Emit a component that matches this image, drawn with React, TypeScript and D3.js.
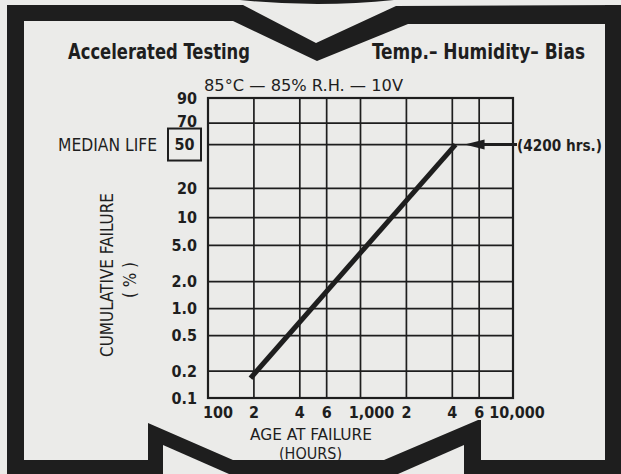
import React, { useEffect, useRef } from "react";
import * as d3 from "d3";

// hours axis (log) and cumulative failure axis (weibull paper)
const xTicks = [100, 200, 400, 600, 1000, 2000, 4000, 6000, 10000];
const xTickLabels = ["100", "2", "4", "6", "1,000", "2", "4", "6", "10,000"];
const yTicks = [0.1, 0.2, 0.5, 1, 2, 5, 10, 20, 50, 70, 90];
const yTickLabels = ["0.1", "0.2", "0.5", "1.0", "2.0", "5.0", "10", "20", "50", "70", "90"];

// fitted failure line
const lineHours = [190, 4200];
const lineFailure = [0.167, 50];
const medianLife = 4200;
const medianPct = 50;

const W = 621;
const H = 474;
const PAPER = "#ebebe9";
const INK = "#1e1e1e";
const NARROW = "'Liberation Sans Narrow', 'DejaVu Sans Condensed', 'Liberation Sans', sans-serif";

const weib = (p: number) => Math.log(-Math.log(1 - p / 100));

const App = () => {
  const svgRef = useRef<SVGSVGElement>(null);

  useEffect(() => {
    const svg = d3.select(svgRef.current);
    svg.selectAll("*").remove();

    const left = 208, right = 513, top = 98, bottom = 398;
    const x = d3.scaleLog().domain([100, 10000]).range([left, right]);
    const y = d3.scaleLinear().domain([weib(0.1), weib(90)]).range([bottom, top]);

    svg.append("rect").attr("width", W).attr("height", H).attr("fill", PAPER);

    // frame with chevrons
    const frame = svg.append("g").attr("fill", INK);
    frame.append("path").attr("d", "M240,0 Q318,8 394,0 Z");
    frame.append("rect").attr("x", 7).attr("y", 5).attr("width", 17).attr("height", H);
    frame.append("rect").attr("x", 605).attr("y", 5).attr("width", 16).attr("height", H);
    frame
      .append("path")
      .attr("d", "M7,5 L243,5 L316,43 L396,6 L621,5 L621,24 L408,24 L317,61 L233,21 L7,21 Z");
    frame
      .append("path")
      .attr("d", "M7,460 L148,460 L148,423 L233,460 L384,460 L478,420 L481,420 L481,460 L621,460 L621,474 L7,474 Z");
    frame.append("path").attr("fill", PAPER).attr("d", "M163,445 L163,474 L229,474 Z");
    frame.append("path").attr("fill", PAPER).attr("d", "M464,445 L464,474 L398,474 Z");

    // titles
    svg.append("text").attr("x", 68).attr("y", 59).attr("textLength", 182).attr("lengthAdjust", "spacingAndGlyphs")
      .attr("font-family", NARROW).attr("font-weight", "bold").attr("font-size", 22).attr("fill", INK)
      .text("Accelerated Testing");
    svg.append("text").attr("x", 372).attr("y", 59).attr("textLength", 213).attr("lengthAdjust", "spacingAndGlyphs")
      .attr("font-family", NARROW).attr("font-weight", "bold").attr("font-size", 22).attr("fill", INK)
      .text("Temp.\u2013 Humidity\u2013 Bias");
    svg.append("text").attr("x", 204).attr("y", 91).attr("textLength", 199).attr("lengthAdjust", "spacingAndGlyphs")
      .attr("font-family", NARROW).attr("font-size", 16).attr("fill", INK)
      .text("85\u00b0C \u2014 85% R.H. \u2014 10V");

    // grid
    const grid = svg.append("g").attr("stroke", INK).attr("stroke-width", 1.7);
    grid.selectAll("line.v").data(xTicks).join("line")
      .attr("x1", (d) => x(d)).attr("x2", (d) => x(d)).attr("y1", top).attr("y2", bottom);
    grid.selectAll("line.h").data(yTicks).join("line")
      .attr("y1", (d) => y(weib(d))).attr("y2", (d) => y(weib(d))).attr("x1", left).attr("x2", right);
    svg.append("rect").attr("x", left).attr("y", top).attr("width", right - left).attr("height", bottom - top)
      .attr("fill", "none").attr("stroke", INK).attr("stroke-width", 2.2);

    // y tick labels
    const yl = svg.append("g").attr("font-family", NARROW).attr("font-weight", "bold").attr("font-size", 16).attr("fill", INK);
    yTicks.forEach((t, i) => {
      const isMed = t === medianPct;
      yl.append("text")
        .attr("x", isMed ? 184.5 : 197)
        .attr("y", y(weib(t)) + (t === 70 ? -2 : 0))
        .attr("dy", "0.36em")
        .attr("text-anchor", isMed ? "middle" : "end")
        .text(yTickLabels[i]);
    });
    const ym = y(weib(medianPct));
    svg.append("rect").attr("x", 168).attr("y", ym - 16).attr("width", 33).attr("height", 32)
      .attr("fill", "none").attr("stroke", INK).attr("stroke-width", 2);
    svg.append("text").attr("x", 58).attr("y", ym + 6).attr("textLength", 99).attr("lengthAdjust", "spacingAndGlyphs")
      .attr("font-family", NARROW).attr("font-size", 17).attr("fill", INK).text("MEDIAN LIFE");

    // x tick labels
    const shift = (v: number) => (v === 100 ? 10 : v === 1000 ? 11 : v === 10000 ? 4 : 0);
    const xl = svg.append("g").attr("font-family", NARROW).attr("font-weight", "bold").attr("font-size", 16).attr("fill", INK)
      .attr("text-anchor", "middle");
    xTicks.forEach((t, i) => {
      xl.append("text").attr("x", x(t) + shift(t)).attr("y", 418).text(xTickLabels[i]);
    });

    // axis titles
    svg.append("text").attr("x", 250).attr("y", 440).attr("textLength", 122).attr("lengthAdjust", "spacingAndGlyphs")
      .attr("font-family", NARROW).attr("font-size", 15).attr("fill", INK).text("AGE AT FAILURE");
    svg.append("text").attr("x", 279).attr("y", 459).attr("textLength", 63).attr("lengthAdjust", "spacingAndGlyphs")
      .attr("font-family", NARROW).attr("font-size", 15).attr("fill", INK).text("(HOURS)");
    svg.append("text").attr("transform", "translate(113,275) rotate(-90)").attr("text-anchor", "middle")
      .attr("textLength", 164).attr("lengthAdjust", "spacingAndGlyphs")
      .attr("font-family", NARROW).attr("font-size", 17).attr("fill", INK).text("CUMULATIVE FAILURE");
    svg.append("text").attr("transform", "translate(136,280) rotate(-90)").attr("text-anchor", "middle")
      .attr("font-family", NARROW).attr("font-size", 17).attr("fill", INK).attr("xml:space", "preserve").text("( % )");

    // failure line
    const pts = lineHours.map((h, i) => [x(h), y(weib(lineFailure[i]))] as [number, number]);
    svg.append("path").attr("d", d3.line()(pts)).attr("fill", "none").attr("stroke", INK).attr("stroke-width", 5);

    // median life arrow
    const ax = x(medianLife) + 9;
    svg.append("line").attr("x1", ax + 18).attr("x2", 517).attr("y1", ym).attr("y2", ym)
      .attr("stroke", INK).attr("stroke-width", 3);
    svg.append("path").attr("d", `M${ax},${ym} L${ax + 20},${ym - 5} L${ax + 20},${ym + 5} Z`).attr("fill", INK);
    svg.append("text").attr("x", 517).attr("y", ym + 6).attr("textLength", 85).attr("lengthAdjust", "spacingAndGlyphs")
      .attr("font-family", NARROW).attr("font-weight", "bold").attr("font-size", 16).attr("fill", INK)
      .text("(4200 hrs.)");
  }, []);

  return <svg ref={svgRef} width={W} height={H} style={{ position: "absolute", left: 0, top: 0 }}></svg>;
};

export default App;
